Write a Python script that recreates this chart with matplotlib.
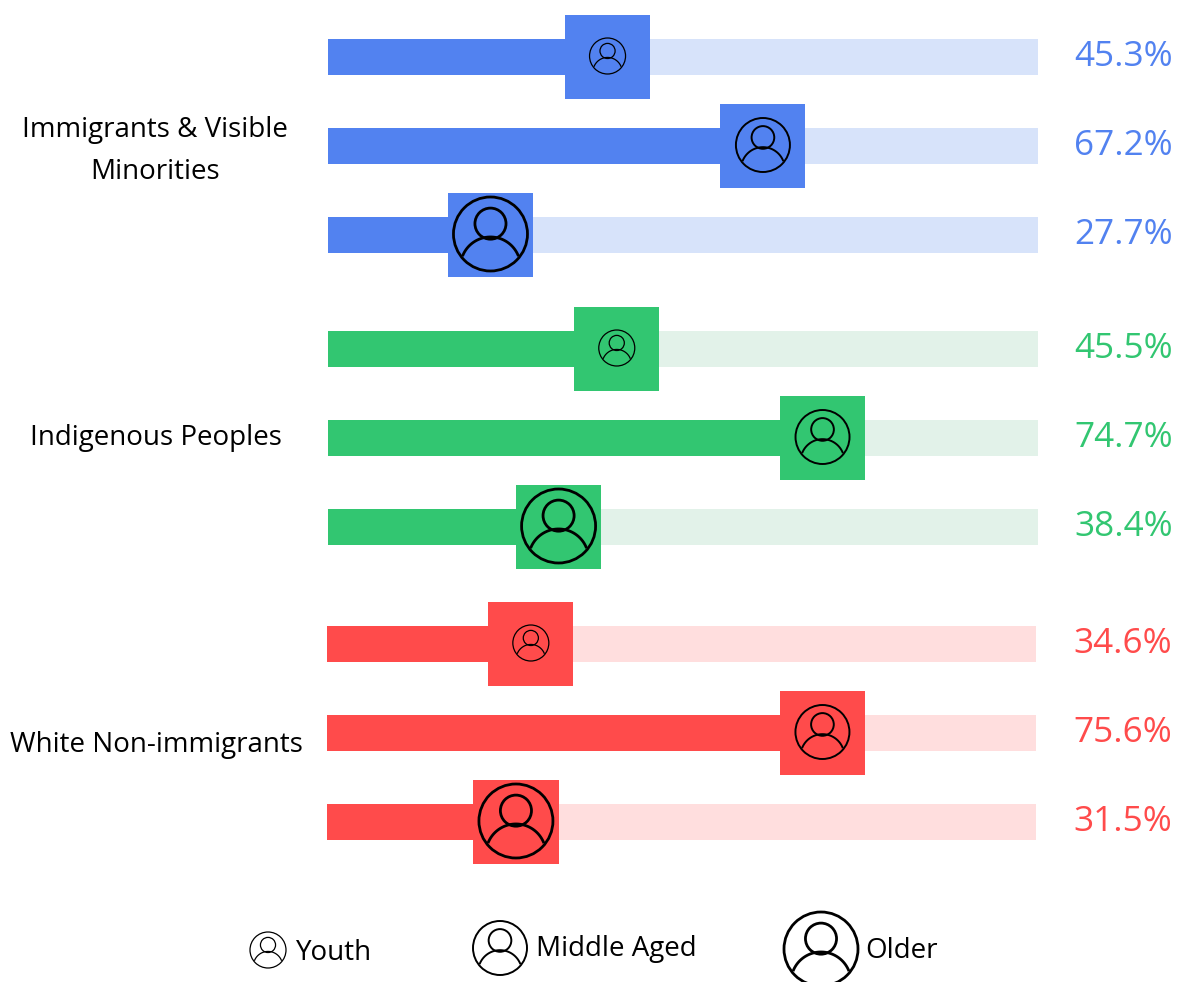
import numpy as np
import matplotlib.pyplot as plt
from matplotlib.patches import Circle

plt.rcParams['font.family'] = ['Open Sans', 'DejaVu Sans']

groups = ['Immigrants & Visible\nMinorities', 'Indigenous Peoples', 'White Non-immigrants']
ages = ['Youth', 'Middle Aged', 'Older']

# printed percentages
immigrants = [45.3, 67.2, 27.7]
indigenous = [45.5, 74.7, 38.4]
white = [34.6, 75.6, 31.5]

# where the slider squares end on the 0-100 scale
immigrants_end = [45.4, 67.3, 28.9]
indigenous_end = [46.7, 75.7, 38.5]
white_end = [34.8, 75.9, 32.7]

colors = ['#5282F0', '#32C671', '#FF4B4B']
light_colors = ['#D7E3FA', '#E2F2E9', '#FFDEDE']

W, H = 1177, 982
fig = plt.figure(figsize=(W / 100, H / 100), dpi=100)

# overlay in pixels for text and icons
top = fig.add_axes([0, 0, 1, 1], zorder=5)
top.set_xlim(0, W)
top.set_ylim(H, 0)
top.axis('off')
top.patch.set_alpha(0)


def person(x, y, r, lw):
    top.add_patch(Circle((x, y), r, fill=False, ec='black', lw=lw))
    top.add_patch(Circle((x, y - 0.28 * r), 0.42 * r, fill=False, ec='black', lw=lw))
    t = np.radians(np.linspace(-69, 69, 40))
    top.plot(x + 0.81 * r * np.sin(t), y + r * (0.89 - 0.81 * np.cos(t)),
             color='black', lw=lw, solid_capstyle='butt')


radius = [18, 27, 37]
widths = [0.9, 1.4, 2.0]
row_y = [[57, 146, 235], [349, 438, 527], [644, 733, 822]]
left_px = [328, 328, 326.5]
label_x = [155, 156, 156]
label_y = [151, 438, 745]
pct_x = [1074, 1074, 1073]
square_w = 12.0  # percent units

rows = zip([immigrants, indigenous, white], [immigrants_end, indigenous_end, white_end])
for g, (vals, ends) in enumerate(rows):
    # every group gets its own 0-100 axis
    ax = fig.add_axes([left_px[g] / W, 0, 709.5 / W, 1])
    ax.set_xlim(0, 100)
    ax.set_ylim(H, 0)
    ax.axis('off')
    ax.barh(row_y[g], [100] * 3, height=36, color=light_colors[g])
    ax.barh(row_y[g], ends, height=36, color=colors[g])
    ax.barh(row_y[g], [square_w] * 3, left=np.array(ends) - square_w, height=84, color=colors[g])

    for i in range(3):
        px = ax.transData.transform((ends[i] - square_w / 2, row_y[g][i]))
        cx, cy = top.transData.inverted().transform(px)
        person(cx, cy - 1, radius[i], widths[i])
        top.text(pct_x[g], row_y[g][i], '%.1f%%' % vals[i], color=colors[g],
                 fontsize=25.3, ha='left', va='center')

    top.text(label_x[g], label_y[g], groups[g], fontsize=20, ha='center', va='center',
             linespacing=1.7, color='black')

# legend
legend_icon_x = [268, 500, 821]
legend_icon_y = [950, 948, 949]
legend_text_x = [296, 536, 865]
legend_text_y = [953, 949, 951]
for i in range(3):
    person(legend_icon_x[i], legend_icon_y[i], radius[i], widths[i])
    top.text(legend_text_x[i], legend_text_y[i], ages[i], fontsize=20, ha='left', va='center')

fig.savefig('out.png', dpi=100)
